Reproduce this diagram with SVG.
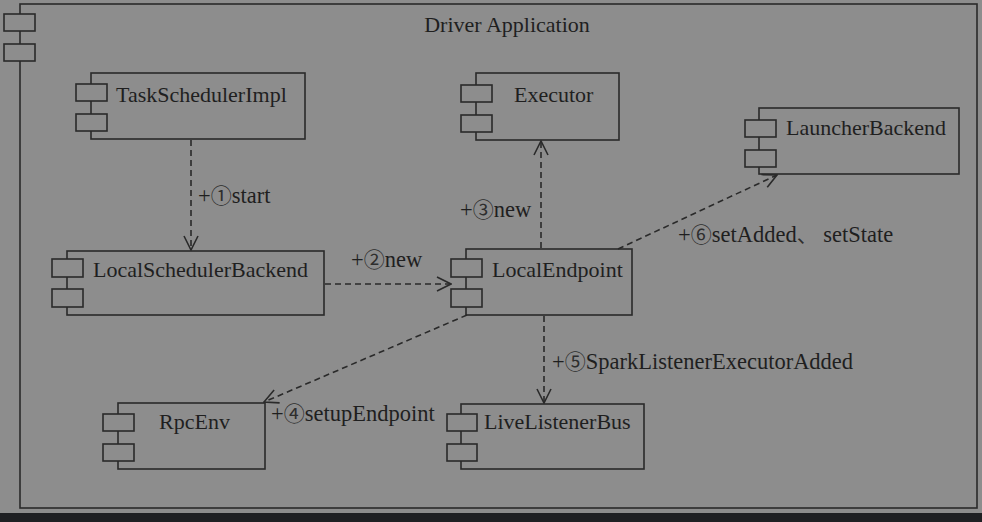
<svg xmlns="http://www.w3.org/2000/svg" width="982" height="522" viewBox="0 0 982 522">
<style>
.box{fill:none;stroke:#2a2a2a;stroke-width:1.6}
.ico{fill:#8d8d8d;stroke:#2a2a2a;stroke-width:1.6}
.t{font-family:"Liberation Serif","Times New Roman",Times,serif;font-size:22px;fill:#1f1f1f}
.l{font-size:22.5px}
.n{font-family:"Noto Sans CJK SC","Noto Sans CJK JP",sans-serif;font-size:21px;fill:#2e2e2e}
.c{fill:none;stroke:#2a2a2a;stroke-width:1.6;stroke-dasharray:6 4}
</style>
<defs>
<marker id="ah" viewBox="0 0 16 16" refX="15" refY="8" markerWidth="16" markerHeight="16" markerUnits="userSpaceOnUse" orient="auto">
<path d="M1,1 L15,8 L1,15" fill="none" stroke="#2a2a2a" stroke-width="1.6"/>
</marker>
</defs>
<rect x="0" y="0" width="982" height="522" fill="#8d8d8d"/>
<rect x="0" y="513" width="982" height="9" fill="#1f2023"/>

<g id="driver-application">
<rect class="box" x="20" y="4" width="957" height="504"/>
<rect class="ico" x="4" y="14" width="31" height="17"/>
<rect class="ico" x="4" y="44" width="31" height="17"/>
<text class="t" x="507" y="32" text-anchor="middle">Driver Application</text>
</g>

<g id="connectors">
<line class="c" x1="191" y1="140" x2="191" y2="250" marker-end="url(#ah)"/>
<line class="c" x1="325" y1="284" x2="451" y2="284" marker-end="url(#ah)"/>
<line class="c" x1="541" y1="248" x2="541" y2="141" marker-end="url(#ah)"/>
<line class="c" x1="467" y1="315" x2="264" y2="402" marker-end="url(#ah)"/>
<line class="c" x1="544" y1="316" x2="544" y2="403" marker-end="url(#ah)"/>
<line class="c" x1="618" y1="249" x2="777" y2="175" marker-end="url(#ah)"/>
<text class="t l" x="198" y="203">+<tspan class="n">①</tspan>start</text>
<text class="t l" x="351" y="267">+<tspan class="n">②</tspan>new</text>
<text class="t l" x="460" y="217">+<tspan class="n">③</tspan>new</text>
<text class="t l" x="271" y="421">+<tspan class="n">④</tspan>setupEndpoint</text>
<text class="t l" x="552" y="369">+<tspan class="n">⑤</tspan>SparkListenerExecutorAdded</text>
<text class="t l" x="678" y="242">+<tspan class="n">⑥</tspan>setAdded<tspan class="n">、</tspan> setState</text>
</g>

<g id="TaskSchedulerImpl">
<rect class="box" x="91" y="73" width="214" height="66"/>
<rect class="ico" x="76" y="84" width="31" height="17"/>
<rect class="ico" x="76" y="114" width="31" height="17"/>
<text class="t" x="116" y="102">TaskSchedulerImpl</text>
</g>

<g id="Executor">
<rect class="box" x="476" y="73" width="143" height="67"/>
<rect class="ico" x="461" y="85" width="31" height="17"/>
<rect class="ico" x="461" y="115" width="31" height="17"/>
<text class="t" x="514" y="102">Executor</text>
</g>

<g id="LauncherBackend">
<rect class="box" x="759" y="108" width="200" height="66"/>
<rect class="ico" x="745" y="120" width="31" height="17"/>
<rect class="ico" x="745" y="150" width="31" height="17"/>
<text class="t" x="786" y="135">LauncherBackend</text>
</g>

<g id="LocalSchedulerBackend">
<rect class="box" x="67" y="251" width="257" height="64"/>
<rect class="ico" x="52" y="259" width="31" height="18"/>
<rect class="ico" x="52" y="289" width="31" height="18"/>
<text class="t" x="93" y="277">LocalSchedulerBackend</text>
</g>

<g id="LocalEndpoint">
<rect class="box" x="466" y="249" width="166" height="66"/>
<rect class="ico" x="451" y="259" width="31" height="18"/>
<rect class="ico" x="451" y="289" width="31" height="18"/>
<text class="t" x="492" y="277">LocalEndpoint</text>
</g>

<g id="RpcEnv">
<rect class="box" x="118" y="403" width="147" height="66"/>
<rect class="ico" x="103" y="414" width="31" height="17"/>
<rect class="ico" x="103" y="444" width="31" height="17"/>
<text class="t" x="159" y="429">RpcEnv</text>
</g>

<g id="LiveListenerBus">
<rect class="box" x="461" y="404" width="183" height="65"/>
<rect class="ico" x="447" y="414" width="30" height="17"/>
<rect class="ico" x="447" y="444" width="30" height="17"/>
<text class="t" x="484" y="429">LiveListenerBus</text>
</g>
</svg>
